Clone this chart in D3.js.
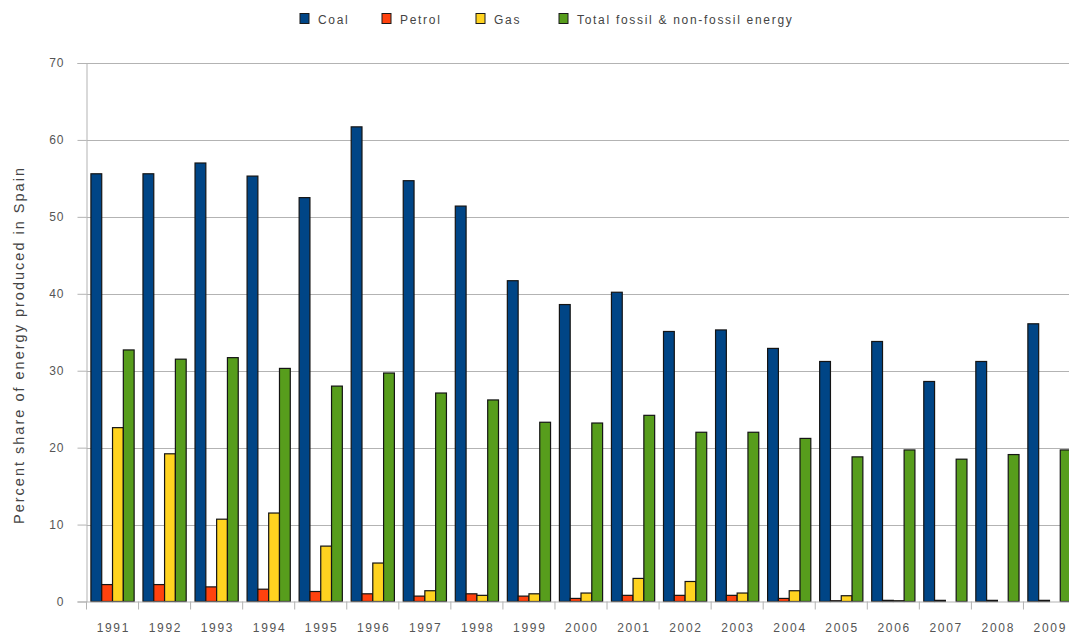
<!DOCTYPE html>
<html>
<head>
<meta charset="utf-8">
<script src="https://cdn.jsdelivr.net/npm/d3@7/dist/d3.min.js"></script>
<style>
  html, body { margin: 0; padding: 0; background: #fff; }
  svg { display: block; font-family: "Liberation Sans", Arial, sans-serif; }
</style>
</head>
<body>
<svg id="chart" width="1069" height="635"></svg>
<script>
// Energy production shares in Spain, 1991–2009
const years = ["1991","1992","1993","1994","1995","1996","1997","1998","1999","2000",
               "2001","2002","2003","2004","2005","2006","2007","2008","2009"];
const seriesNames = ["Coal", "Petrol", "Gas", "Total fossil & non-fossil energy"];
const coal   = [55.6, 55.6, 57.0, 55.3, 52.5, 61.7, 54.7, 51.4, 41.7, 38.6,
                40.2, 35.1, 35.3, 32.9, 31.2, 33.8, 28.6, 31.2, 36.1];
const petrol = [2.2, 2.2, 1.9, 1.6, 1.3, 1.0, 0.7, 1.0, 0.7, 0.4,
                0.8, 0.8, 0.8, 0.4, 0.1, 0.15, 0.15, 0.15, 0.15];
const gas    = [22.6, 19.2, 10.7, 11.5, 7.2, 5.0, 1.4, 0.8, 1.0, 1.1,
                3.0, 2.6, 1.1, 1.4, 0.75, 0.1, 0, 0, 0];
const total  = [32.7, 31.5, 31.7, 30.3, 28.0, 29.7, 27.1, 26.2, 23.3, 23.2,
                24.2, 22.0, 22.0, 21.2, 18.8, 19.7, 18.5, 19.1, 19.7];
const yTicks = [0, 10, 20, 30, 40, 50, 60, 70];
const yTitle = "Percent share of energy produced in Spain";

const colors = ["#004586", "#ff420e", "#ffd320", "#579d1c"];
const seriesValues = [coal, petrol, gas, total];

const svg = d3.select("#chart");
const plot = { left: 86.5, right: 1075.5, top: 63, bottom: 601.5 };
const labelSpacing = 1.7;

const x = d3.scaleBand().domain(years)
  .range([plot.left, plot.right])
  .paddingInner(0.17).paddingOuter(0.085);
const xi = d3.scaleBand().domain(d3.range(seriesNames.length))
  .range([0, x.bandwidth()]);
const y = d3.scaleLinear().domain([0, 70]).range([plot.bottom, plot.top]);

// horizontal grid
svg.append("g")
  .selectAll("line").data(yTicks.filter(d => d > 0)).join("line")
  .attr("x1", plot.left).attr("x2", 1069)
  .attr("y1", d => Math.round(y(d)) + 0.5).attr("y2", d => Math.round(y(d)) + 0.5)
  .attr("stroke", "#b3b3b3").attr("stroke-width", 1);

// y axis
const yAxis = svg.append("g")
  .attr("transform", `translate(${plot.left},0)`)
  .call(d3.axisLeft(y).tickValues(yTicks).tickSize(9).tickPadding(13));
yAxis.select(".domain").attr("stroke", "#b3b3b3");
yAxis.selectAll(".tick line").attr("stroke", "#b3b3b3");
yAxis.selectAll(".tick text").attr("fill", "#555").attr("font-size", 12)
  .attr("letter-spacing", 1)
  .attr("font-family", "Liberation Sans, Arial, sans-serif");

// y axis title
svg.append("text")
  .attr("transform", `translate(24, 346) rotate(-90)`)
  .attr("text-anchor", "middle")
  .attr("font-size", 14.5).attr("fill", "#444")
  .attr("textLength", 356).attr("lengthAdjust", "spacing")
  .text(yTitle);

// bars
const groups = svg.append("g").selectAll("g").data(years).join("g")
  .attr("transform", d => `translate(${x(d)},0)`);
groups.selectAll("rect")
  .data((d, i) => seriesValues.map((s, k) => ({ k, v: s[i] })))
  .join("rect")
  .attr("x", d => xi(d.k))
  .attr("width", xi.bandwidth())
  .attr("y", d => y(d.v))
  .attr("height", d => plot.bottom - y(d.v))
  .attr("fill", d => colors[d.k])
  .attr("stroke", "#141414").attr("stroke-width", 1.2);

// x axis with separators between categories
const xAxisG = svg.append("g").attr("transform", `translate(0,${plot.bottom})`);
xAxisG.append("line")
  .attr("x1", plot.left).attr("x2", 1069).attr("y1", 0.5).attr("y2", 0.5)
  .attr("stroke", "#b3b3b3");
const step = x.step();
xAxisG.selectAll("line.sep").data(years).join("line").attr("class", "sep")
  .attr("x1", d => x(d) - step * x.paddingInner() / 2)
  .attr("x2", d => x(d) - step * x.paddingInner() / 2)
  .attr("y1", 0).attr("y2", 8)
  .attr("stroke", "#b3b3b3");
xAxisG.selectAll("text").data(years).join("text")
  .attr("x", d => x(d) + x.bandwidth() / 2 + labelSpacing / 2)
  .attr("y", 30)
  .attr("text-anchor", "middle")
  .attr("font-size", 12).attr("fill", "#555")
  .attr("letter-spacing", labelSpacing)
  .text(d => d);

// legend
const legendPos = [300, 382, 476, 559];
const legend = svg.append("g").selectAll("g").data(seriesNames).join("g")
  .attr("transform", (d, i) => `translate(${legendPos[i]},13)`);
legend.append("rect")
  .attr("y", 0.5)
  .attr("width", 9).attr("height", 10)
  .attr("fill", (d, i) => colors[i])
  .attr("stroke", "#1a1a1a").attr("stroke-width", 1);
legend.append("text")
  .attr("x", 18).attr("y", 10.5)
  .attr("font-size", 12).attr("fill", "#444")
  .attr("letter-spacing", labelSpacing)
  .text(d => d);
</script>
</body>
</html>
